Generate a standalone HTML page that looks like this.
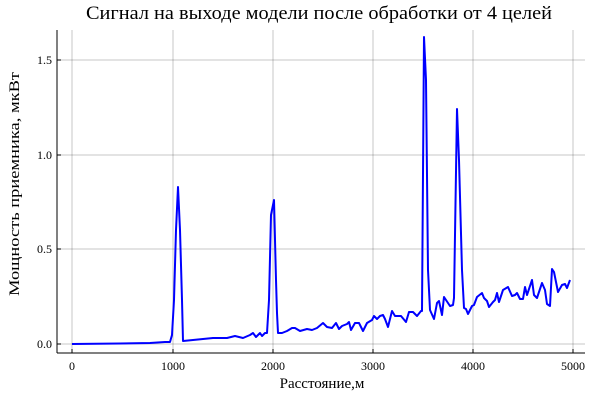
<!DOCTYPE html>
<html><head><meta charset="utf-8"><style>body{margin:0;background:#fff}svg{display:block}text{font-family:"Liberation Serif",serif;fill:#000}</style></head><body>
<svg width="600" height="400" viewBox="0 0 600 400">
<rect width="600" height="400" fill="#fff"/>
<g stroke="#000" stroke-opacity="0.22" stroke-width="1">
<line x1="72" y1="30" x2="72" y2="352"/><line x1="173" y1="30" x2="173" y2="352"/><line x1="273" y1="30" x2="273" y2="352"/><line x1="373" y1="30" x2="373" y2="352"/><line x1="473" y1="30" x2="473" y2="352"/><line x1="573" y1="30" x2="573" y2="352"/>
<line x1="57" y1="344" x2="585" y2="344"/><line x1="57" y1="249" x2="585" y2="249"/><line x1="57" y1="155" x2="585" y2="155"/><line x1="57" y1="60" x2="585" y2="60"/>
</g>
<g stroke="#000" stroke-width="1">
<line x1="57" y1="30" x2="57" y2="353"/><line x1="57" y1="353" x2="585" y2="353"/>
<line x1="72" y1="353" x2="72" y2="349"/><line x1="173" y1="353" x2="173" y2="349"/><line x1="273" y1="353" x2="273" y2="349"/><line x1="373" y1="353" x2="373" y2="349"/><line x1="473" y1="353" x2="473" y2="349"/><line x1="573" y1="353" x2="573" y2="349"/>
<line x1="57" y1="344" x2="61" y2="344"/><line x1="57" y1="249" x2="61" y2="249"/><line x1="57" y1="155" x2="61" y2="155"/><line x1="57" y1="60" x2="61" y2="60"/>
</g>
<g font-size="12" text-anchor="middle">
<text x="72" y="370">0</text><text x="173" y="370">1000</text><text x="273" y="370">2000</text><text x="373" y="370">3000</text><text x="473" y="370">4000</text><text x="573" y="370">5000</text>
</g>
<g font-size="12" text-anchor="end">
<text x="52" y="348">0.0</text><text x="52" y="253">0.5</text><text x="52" y="159">1.0</text><text x="52" y="64">1.5</text>
</g>
<text x="319" y="19" font-size="19" text-anchor="middle" textLength="466" lengthAdjust="spacingAndGlyphs">Сигнал на выходе модели после обработки от 4 целей</text>
<text x="322" y="388" font-size="15" text-anchor="middle">Расстояние,м</text>
<text transform="translate(19,184) rotate(-90)" font-size="15" text-anchor="middle" textLength="224" lengthAdjust="spacingAndGlyphs">Мощность приемника, мкВт</text>
<polyline fill="none" stroke="#0000ff" stroke-width="2" stroke-linejoin="round" points="72,344 120,343.5 150,343 165,342 170,342 172,335 174,300 176,230 178,187 180,230 182,300 183,341 193,340 203,339 213,338 227,338 235,336 243,338 250,335 253,333 256,337 260,333 262,336 265,333 267,333 269,300 271,215 274,200 276,280 277,313 278,333 282,333 287,331 292,328 295,328 300,331 307,329 312,330 317,328 323,323 327,327 332,328 336,323 339,329 342,326 347,324 349,322 351,330 355,323 359,323 363,331 367,323 372,320 374,316 377,319 380,316 383,315 385,319 388,327 392,311 395,316 401,316 406,322 409,312 413,312 417,316 421,311 422,311 424,37 426,80 428,270 430,310 434,319 437,303 439,301 442,315 444,297 450,306 453,305 454,298 457,109 459,160 462,270 464,308 466,309 468,314 472,306 474,305 477,297 482,293 484,298 487,301 489,307 493,302 495,300 497,293 499,302 503,290 508,287 512,296 515,295 517,293 520,299 523,299 525,287 527,295 532,280 534,295 537,298 542,283 545,290 547,304 550,306 552,269 554,272 558,292 562,285 565,284 567,288 570,280"/>
</svg>
</body></html>
